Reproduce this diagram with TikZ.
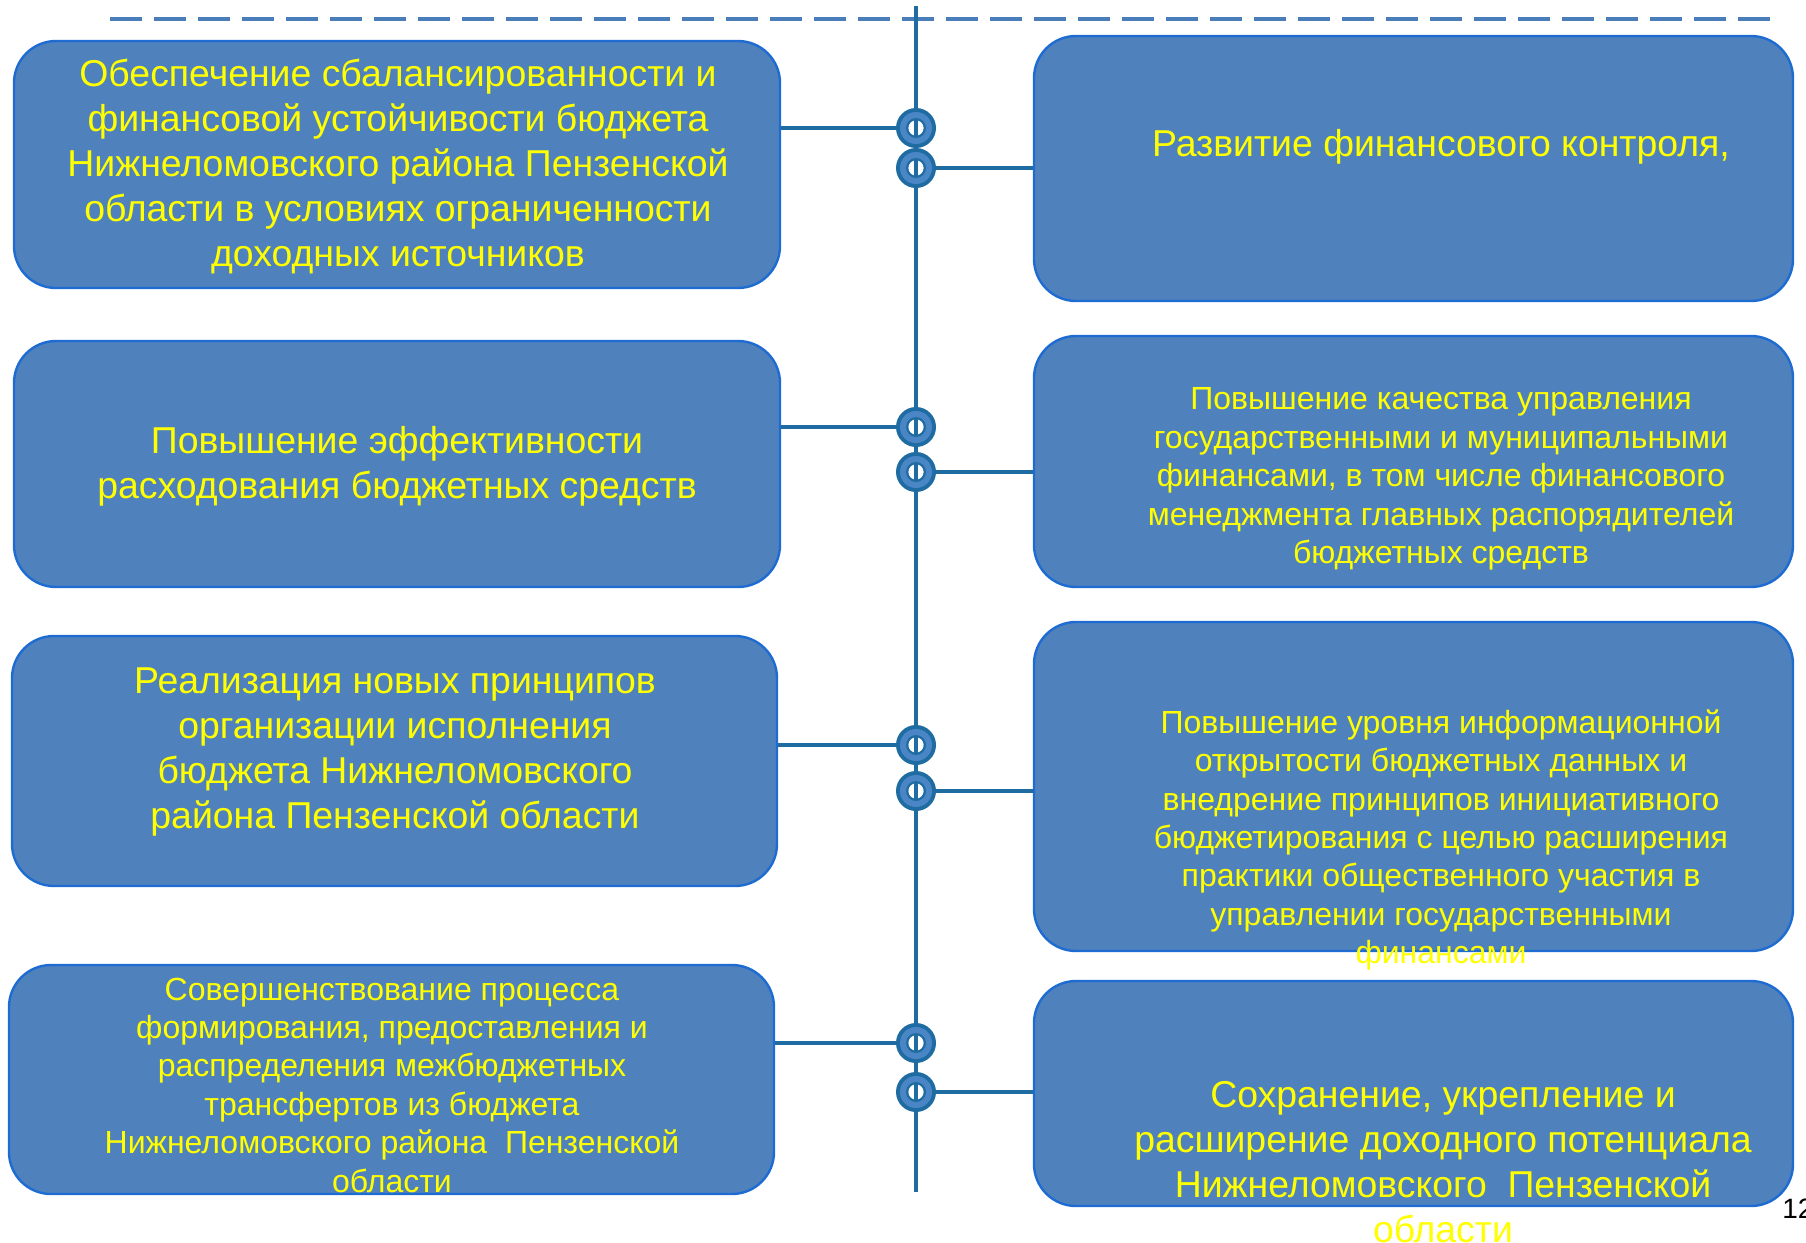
\documentclass[tikz,border=0pt]{standalone}
\usepackage{fontspec}
\setmainfont{Liberation Sans}
\usetikzlibrary{fit}
\definecolor{boxfill}{HTML}{4F81BD}
\definecolor{boxline}{HTML}{1E6CD2}
\definecolor{conn}{HTML}{1F6CA3}
\definecolor{ringmid}{HTML}{4A86C5}
\definecolor{dashc}{HTML}{4A7EBB}
\definecolor{txtc}{HTML}{FFFF00}
\tikzset{
  box/.style={draw=boxline, line width=1.2pt, fill=boxfill, rounded corners=21pt, inner sep=0pt},
  txt/.style={text=txtc, align=center, inner sep=0pt},
  bigtxt/.style={txt, font=\fontsize{18.7pt}{22.5pt}\selectfont},
  smalltxt/.style={txt, font=\fontsize{16pt}{19.2pt}\selectfont},
  ring/.style={circle, fill=conn, minimum size=20pt, inner sep=0pt},
  conline/.style={draw=conn, line width=1.6pt},
}
\newcommand{\myring}[1]{%
  \fill[ringmid] (#1.center) circle (8pt);
  \fill[conn] (#1.center) circle (5pt);
  \fill[white] (#1.center) circle (3.8pt);
  \draw[conline] ([yshift=4pt]#1.center) -- ([yshift=-4pt]#1.center);
}
\begin{document}
\begin{tikzpicture}[x=0.5pt,y=-0.5pt]
\useasboundingbox (0,0) rectangle (1806,1243);
% dashed top line
\coordinate (d1) at (110,18.5);
\coordinate (d2) at (1770,18.5);
\draw[dashc, line width=2pt, dash pattern=on 16pt off 6pt] (d1) -- (d2);
% vertical axis
\coordinate (vtop) at (916,6);
\coordinate (vbot) at (916,1192);
\draw[conline] (vtop) -- (vbot);
% boxes
\node[box, fit={(14,41) (780,288)}] (L1) {};
\node[box, fit={(14,341) (780,587)}] (L2) {};
\node[box, fit={(12,636) (777,886)}] (L3) {};
\node[box, fit={(9,965) (774,1194)}] (L4) {};
\node[box, fit={(1034,36) (1793,301)}] (R1) {};
\node[box, fit={(1034,336) (1793,587)}] (R2) {};
\node[box, fit={(1034,622) (1793,951)}] (R3) {};
\node[box, fit={(1034,981) (1793,1206)}] (R4) {};
% rings
\node[ring] (c1a) at (916,128) {};
\node[ring] (c1b) at (916,168) {};
\node[ring] (c2a) at (916,427) {};
\node[ring] (c2b) at (916,472) {};
\node[ring] (c3a) at (916,745) {};
\node[ring] (c3b) at (916,791) {};
\node[ring] (c4a) at (916,1043) {};
\node[ring] (c4b) at (916,1092) {};
% connectors
\draw[conline] (L1.east |- c1a) -- (c1a);
\draw[conline] (c1b) -- (R1.west |- c1b);
\draw[conline] (L2.east |- c2a) -- (c2a);
\draw[conline] (c2b) -- (R2.west |- c2b);
\draw[conline] (L3.east |- c3a) -- (c3a);
\draw[conline] (c3b) -- (R3.west |- c3b);
\draw[conline] (L4.east |- c4a) -- (c4a);
\draw[conline] (c4b) -- (R4.west |- c4b);
\myring{c1a}\myring{c1b}\myring{c2a}\myring{c2b}
\myring{c3a}\myring{c3b}\myring{c4a}\myring{c4b}
% texts
\node[bigtxt] (tL1) at (398,167) {Обеспечение сбалансированности и\\финансовой устойчивости бюджета\\Нижнеломовского района Пензенской\\области в условиях ограниченности\\доходных источников};
\node[bigtxt] (tL2) at (397,466) {Повышение эффективности\\расходования бюджетных средств};
\node[bigtxt] (tL3) at (395,752) {Реализация новых принципов\\организации исполнения\\бюджета Нижнеломовского\\района Пензенской области};
\node[smalltxt] (tL4) at (392,1085) {Совершенствование процесса\\формирования, предоставления и\\распределения межбюджетных\\трансфертов из бюджета\\Нижнеломовского района~ Пензенской\\области};
\node[bigtxt] (tR1) at (1441,147) {Развитие финансового контроля,};
\node[smalltxt] (tR2) at (1441,479) {Повышение качества управления\\государственными и муниципальными\\финансами, в том числе финансового\\менеджмента главных распорядителей\\бюджетных средств};
\node[smalltxt] (tR3) at (1441,840) {Повышение уровня информационной\\открытости бюджетных данных и\\внедрение принципов инициативного\\бюджетирования с целью расширения\\практики общественного участия в\\управлении государственными\\финансами};
\node[bigtxt] (tR4) at (1443,1162) {Сохранение, укрепление и\\расширение доходного потенциала\\Нижнеломовского~ Пензенской\\области};
% page number
\node[anchor=base west, inner sep=0pt, font=\fontsize{14pt}{16pt}\selectfont] (pg) at (1782,1218) {12};
\end{tikzpicture}
\end{document}
